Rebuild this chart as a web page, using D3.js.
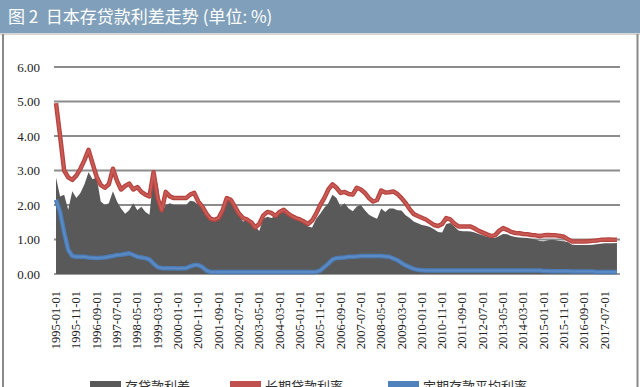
<!DOCTYPE html>
<html>
<head>
<meta charset="utf-8">
<script src="https://cdn.jsdelivr.net/npm/d3@7"></script>
<style>
  body { margin: 0; background: #fff; }
  svg { display: block; }
  .serif { font-family: 'Liberation Serif', 'DejaVu Serif', 'Times New Roman', serif; }
</style>
</head>
<body>
<script>
// 图表尺寸
const width = 640;
const height = 387;

// 数据：1995-01 起，每两个月一个读数
const startMonth = new Date(1995, 0, 1);
const monthCount = 278;   // 1995-01 ~ 2018-02 类目

// 长期贷款利率
const longLoanRate = [
  4.95, 4.0, 3.0, 2.8, 2.73, 2.85, 3.05, 3.3, 3.6, 3.2,
  2.82, 2.58, 2.5, 2.6, 3.05, 2.7, 2.45, 2.55, 2.62, 2.45,
  2.52, 2.38, 2.3, 2.25, 2.95, 2.2, 1.85, 2.38, 2.25, 2.2,
  2.2, 2.2, 2.2, 2.3, 2.35, 2.1, 1.95, 1.75, 1.6, 1.57,
  1.62, 1.85, 2.2, 2.15, 1.95, 1.75, 1.62, 1.58, 1.5, 1.35,
  1.45, 1.7, 1.8, 1.77, 1.68, 1.8, 1.86, 1.76, 1.68, 1.62,
  1.58, 1.52, 1.45, 1.55, 1.75, 2.0, 2.2, 2.45, 2.6, 2.5,
  2.35, 2.38, 2.32, 2.3, 2.5, 2.45, 2.35, 2.2, 2.1, 2.15,
  2.42, 2.36, 2.37, 2.39, 2.32, 2.2, 2.06, 1.88, 1.74, 1.68,
  1.63, 1.58, 1.5, 1.42, 1.39, 1.45, 1.62, 1.58, 1.46, 1.38,
  1.38, 1.38, 1.38, 1.32, 1.25, 1.2, 1.15, 1.1, 1.12, 1.25,
  1.33, 1.28, 1.22, 1.19, 1.18, 1.16, 1.15, 1.13, 1.12, 1.1,
  1.12, 1.13, 1.12, 1.12, 1.1, 1.08, 1.0, 0.94, 0.94, 0.94,
  0.94, 0.95, 0.96, 0.97, 0.99, 0.99, 1.0, 0.99, 0.99
];

// 定期存款平均利率
const depositRate = [
  2.15, 1.8, 1.2, 0.7, 0.52, 0.5, 0.5, 0.5, 0.48, 0.47,
  0.46, 0.47, 0.48, 0.5, 0.52, 0.55, 0.56, 0.58, 0.6, 0.55,
  0.5, 0.48, 0.46, 0.42, 0.3, 0.2, 0.17, 0.17, 0.17, 0.17,
  0.16, 0.17, 0.17, 0.22, 0.26, 0.26, 0.2, 0.1, 0.06, 0.06,
  0.06, 0.06, 0.06, 0.06, 0.06, 0.06, 0.06, 0.06, 0.06, 0.06,
  0.06, 0.06, 0.06, 0.06, 0.06, 0.06, 0.06, 0.06, 0.06, 0.06,
  0.06, 0.06, 0.06, 0.06, 0.06, 0.1, 0.2, 0.3, 0.42, 0.46,
  0.47, 0.48, 0.5, 0.5, 0.51, 0.52, 0.52, 0.52, 0.52, 0.52,
  0.52, 0.51, 0.5, 0.45, 0.4, 0.32, 0.25, 0.2, 0.15, 0.12,
  0.11, 0.1, 0.1, 0.1, 0.1, 0.1, 0.1, 0.1, 0.1, 0.1,
  0.1, 0.1, 0.1, 0.1, 0.1, 0.1, 0.1, 0.1, 0.1, 0.1,
  0.1, 0.1, 0.1, 0.1, 0.1, 0.1, 0.1, 0.1, 0.1, 0.1,
  0.09, 0.09, 0.08, 0.08, 0.08, 0.08, 0.08, 0.07, 0.07, 0.07,
  0.07, 0.07, 0.07, 0.06, 0.06, 0.06, 0.06, 0.06, 0.06
];

// 存贷款利差
const spread = [
  2.8, 2.25, 2.3, 1.86, 2.4, 2.2, 2.35, 2.6, 2.95, 2.75,
  2.8, 2.1, 2.0, 2.05, 2.4, 2.1, 1.9, 1.75, 1.85, 2.05,
  1.85, 1.95, 1.8, 1.72, 2.9, 2.6, 1.78, 2.0, 2.05, 2.0,
  2.0, 2.0, 2.0, 2.12, 2.1, 2.0, 1.9, 1.75, 1.55, 1.55,
  1.62, 1.85, 2.1, 2.2, 1.9, 1.7, 1.52, 1.56, 1.48, 1.38,
  1.25, 1.6, 1.66, 1.62, 1.68, 1.75, 1.8, 1.7, 1.62, 1.58,
  1.54, 1.5, 1.38, 1.35, 1.6, 1.75, 1.92, 2.05, 2.3, 2.2,
  1.96, 2.05, 1.9, 1.82, 1.96, 2.0, 1.85, 1.72, 1.65, 1.6,
  1.9, 1.8, 1.9, 1.9, 1.85, 1.84, 1.7, 1.62, 1.52, 1.47,
  1.42, 1.4, 1.36, 1.3, 1.22, 1.2, 1.45, 1.48, 1.38, 1.26,
  1.24, 1.24, 1.23, 1.2, 1.16, 1.12, 1.08, 1.05, 1.04, 1.1,
  1.16, 1.15, 1.1, 1.07, 1.06, 1.05, 1.04, 1.02, 1.0, 0.96,
  0.95, 0.98, 0.99, 0.98, 0.96, 0.95, 0.92, 0.85, 0.84, 0.84,
  0.84, 0.84, 0.85, 0.86, 0.88, 0.89, 0.89, 0.89, 0.9
];

// X 轴标签（每 10 个月）
const xTickLabels = [
  '1995-01-01', '1995-11-01', '1996-09-01', '1997-07-01', '1998-05-01',
  '1999-03-01', '2000-01-01', '2000-11-01', '2001-09-01', '2002-07-01',
  '2003-05-01', '2004-03-01', '2005-01-01', '2005-11-01', '2006-09-01',
  '2007-07-01', '2008-05-01', '2009-03-01', '2010-01-01', '2010-11-01',
  '2011-09-01', '2012-07-01', '2013-05-01', '2014-03-01', '2015-01-01',
  '2015-11-01', '2016-09-01', '2017-07-01'
];
const yTicks = [0, 1, 2, 3, 4, 5, 6];

const seriesNames = ['存贷款利差', '长期贷款利率', '定期存款平均利率'];
const seriesColors = ['#595959', '#c0504d', '#4f81bd'];

const fmtMonth = d3.timeFormat('%Y-%m-%d');
const months = d3.timeMonth.range(startMonth, d3.timeMonth.offset(startMonth, monthCount)).map(fmtMonth);
const sampleMonths = longLoanRate.map((d, i) => months[i * 2]);

const svg = d3.select('body').append('svg')
    .attr('width', width)
    .attr('height', height);

// 标题栏
svg.append('rect')
    .attr('x', 0).attr('y', 0)
    .attr('width', width).attr('height', 33)
    .attr('fill', '#7f9fba');

svg.append('text')
    .attr('x', 8)
    .attr('y', 23)
    .attr('fill', '#fff')
    .attr('font-family', '"Noto Sans CJK SC", sans-serif')
    .attr('font-size', 17)
    .attr('xml:space', 'preserve')
    .style('white-space', 'pre')
    .text('图 2  日本存贷款利差走势 (单位: %)');

// 外框
svg.append('line').attr('x1', 0).attr('x2', width).attr('y1', 34).attr('y2', 34)
    .attr('stroke', '#c8c8c8').attr('stroke-width', 1.5);
svg.append('line').attr('x1', 3).attr('x2', 3).attr('y1', 34).attr('y2', height)
    .attr('stroke', '#8a8a8a').attr('stroke-width', 2);
svg.append('line').attr('x1', 637.5).attr('x2', 637.5).attr('y1', 34).attr('y2', height)
    .attr('stroke', '#8a8a8a').attr('stroke-width', 2);

// 比例尺
const xScale = d3.scaleBand()
    .domain(months)
    .range([55, 620])
    .padding(0);
const xc = m => xScale(m) + xScale.bandwidth() / 2;

const yScale = d3.scaleLinear()
    .domain([0, 6])
    .range([274, 67]);

// 网格线
svg.append('g')
    .selectAll('line')
    .data(yTicks)
    .enter().append('line')
    .attr('x1', 54)
    .attr('x2', 620)
    .attr('y1', d => yScale(d))
    .attr('y2', d => yScale(d))
    .attr('stroke', d => d === 0 ? '#9a9a9a' : '#8c8c8c')
    .attr('stroke-width', 2);

// Y 轴标签
svg.append('g')
    .selectAll('text')
    .data(yTicks)
    .enter().append('text')
    .attr('class', 'serif')
    .attr('x', 40)
    .attr('y', d => yScale(d) + 4.5)
    .attr('text-anchor', 'end')
    .attr('fill', '#222')
    .attr('font-size', 13)
    .text(d => d3.format('.2f')(d));

// 利差面积
const area = d3.area()
    .x((d, i) => xc(sampleMonths[i]))
    .y0(yScale(0))
    .y1(d => yScale(d));

svg.append('path')
    .datum(spread)
    .attr('d', area)
    .attr('fill', seriesColors[0]);

const line = d3.line()
    .x((d, i) => xc(sampleMonths[i]))
    .y(d => yScale(d));

// 长期贷款利率
svg.append('path')
    .datum(longLoanRate)
    .attr('d', line)
    .attr('fill', 'none')
    .attr('stroke', '#b5443f')
    .attr('stroke-width', 4.5)
    .attr('stroke-linejoin', 'round');
svg.append('path')
    .datum(longLoanRate)
    .attr('d', line)
    .attr('fill', 'none')
    .attr('stroke', '#c95a56')
    .attr('stroke-width', 2)
    .attr('stroke-linejoin', 'round');

// 定期存款平均利率
svg.append('path')
    .datum(depositRate)
    .attr('d', line)
    .attr('fill', 'none')
    .attr('stroke', '#4a7cb8')
    .attr('stroke-width', 4.5)
    .attr('stroke-linejoin', 'round');
svg.append('path')
    .datum(depositRate)
    .attr('d', line)
    .attr('fill', 'none')
    .attr('stroke', '#5b8ac4')
    .attr('stroke-width', 2)
    .attr('stroke-linejoin', 'round');

// X 轴标签（竖排）
svg.append('g')
    .selectAll('text')
    .data(xTickLabels)
    .enter().append('text')
    .attr('class', 'serif')
    .attr('transform', d => `translate(${xc(d) + 4}, 291) rotate(-90)`)
    .attr('text-anchor', 'end')
    .attr('fill', '#222')
    .attr('font-size', 12.5)
    .text(d => d);

// 图例
const legendX = [90, 230, 388];
const legend = svg.append('g');
seriesNames.forEach((d, i) => {
    legend.append('rect')
        .attr('x', legendX[i])
        .attr('y', 381)
        .attr('width', 31)
        .attr('height', 10)
        .attr('fill', seriesColors[i]);
    legend.append('text')
        .attr('x', legendX[i] + 35)
        .attr('y', 391)
        .attr('fill', '#333')
        .attr('font-family', '"Noto Sans CJK SC", sans-serif')
        .attr('font-size', 13)
        .text(d);
});
</script>
</body>
</html>
